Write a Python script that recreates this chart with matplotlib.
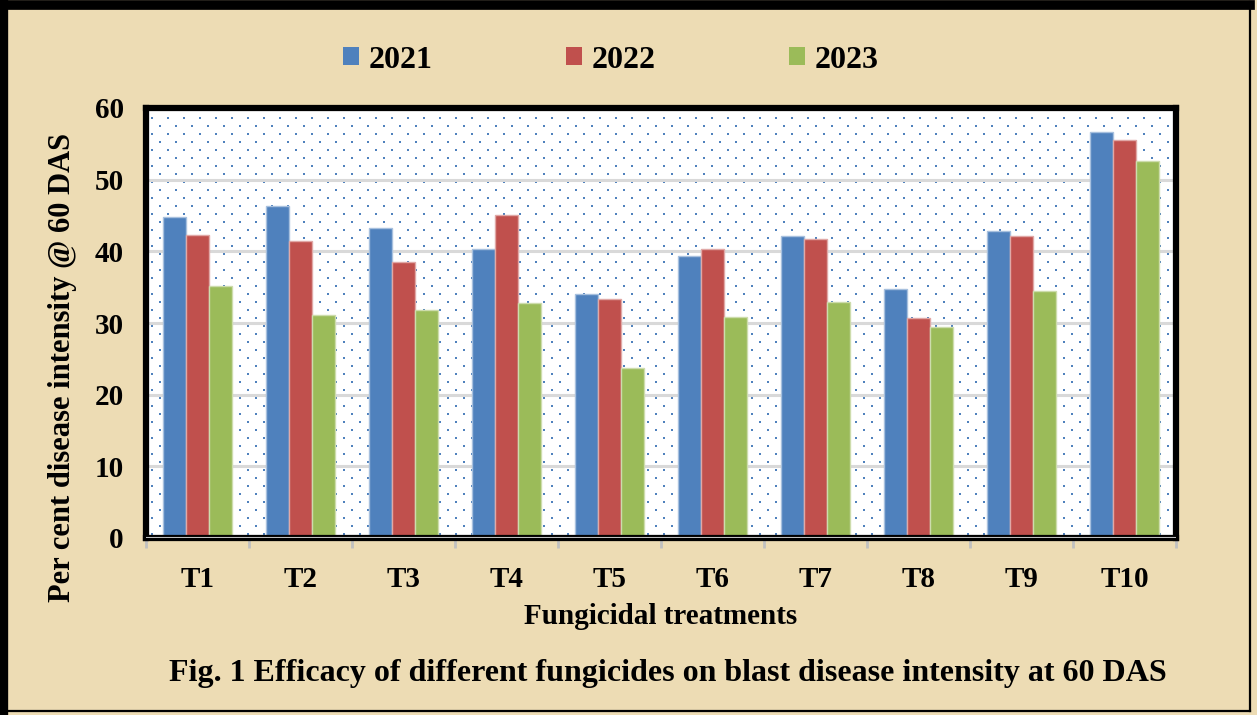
import matplotlib
matplotlib.use("Agg")
import matplotlib.pyplot as plt
import numpy as np
from matplotlib.patches import Patch
from matplotlib.lines import Line2D

# data
treatments = ["T1", "T2", "T3", "T4", "T5", "T6", "T7", "T8", "T9", "T10"]
years = ["2021", "2022", "2023"]
y2021 = [44.8, 46.3, 43.3, 40.3, 34.0, 39.3, 42.2, 34.7, 42.9, 56.7]
y2022 = [42.3, 41.4, 38.5, 45.1, 33.3, 40.3, 41.7, 30.7, 42.2, 55.6]
y2023 = [35.1, 31.1, 31.8, 32.8, 23.7, 30.9, 32.9, 29.5, 34.4, 52.6]
yticks = [0, 10, 20, 30, 40, 50, 60]

colors = ["#4f81bd", "#c0504d", "#9bbb59"]
edges = ["#a7c0de", "#e0a8a6", "#cddcac"]

plt.rcParams["font.family"] = ["Liberation Serif", "DejaVu Serif"]
plt.rcParams["font.weight"] = "bold"

W, H = 1257, 715
fig = plt.figure(figsize=(W / 100, H / 100), dpi=100)
fig.patch.set_facecolor("#eddcb4")

# axes box in pixels
L, R, T, B = 146, 1176, 108, 538
ax = fig.add_axes([L / W, 1 - B / H, (R - L) / W, (B - T) / H])
ax.set_facecolor("white")

# dotted fill of the plot area
aw, ah = R - L, B - T
pts = []
for k, yy in enumerate(np.arange(4, ah, 8)):
    x0 = 6 if k % 2 == 0 else 14
    for xx in np.arange(x0, aw, 16):
        pts.append((xx / aw, yy / ah))
pts = np.array(pts)
ax.scatter(pts[:, 0], pts[:, 1], transform=ax.transAxes, marker="s", s=2.0,
           color="#4f81bd", linewidths=0, zorder=0.3, clip_on=True)

x = np.arange(len(treatments))
bw = 0.223
for i, (vals, c, e) in enumerate(zip([y2021, y2022, y2023], colors, edges)):
    ax.bar(x + (i - 1) * bw, vals, width=bw, color=c, edgecolor=e,
           linewidth=1.0, zorder=2, label=years[i])

ax.set_xlim(-0.5, len(treatments) - 0.5)
ax.set_ylim(0, 60)
ax.set_yticks(yticks)
ax.set_yticklabels([str(v) for v in yticks], fontsize=21, fontweight="bold")
ax.set_xticks(x)
ax.set_xticklabels(treatments, fontsize=21, fontweight="bold")
ax.tick_params(axis="x", length=0, pad=20)
ax.tick_params(axis="y", length=0, pad=16)
ax.set_xticks(np.arange(-0.5, len(treatments), 1), minor=True)
ax.tick_params(axis="x", which="minor", length=7, width=2, color="#c0c0c0",
               direction="out")

ax.yaxis.grid(True, color="#d9d9d9", linewidth=2.2, zorder=1)
ax.set_axisbelow(True)

for s in ["left", "top", "right", "bottom"]:
    ax.spines[s].set_linewidth(4.5)
    ax.spines[s].set_color("black")
ax.axhline(0, color="#c0c0c0", linewidth=1.5, zorder=3)

ax.set_xlabel("Fungicidal treatments", fontsize=21, fontweight="bold",
              labelpad=7)
ax.set_ylabel("Per cent disease intensity @ 60 DAS", fontsize=22,
              fontweight="bold", va="center")
ax.yaxis.set_label_coords((63 - L) / aw, (B - 367) / ah)

handles = [Patch(facecolor=c, edgecolor="none") for c in colors]
fig.legend(handles, years, loc="center", bbox_to_anchor=(0.486, 1 - 60 / H),
           ncol=3, frameon=False, handlelength=0.5,
           handleheight=0.5, handletextpad=0.3, columnspacing=4.17,
           prop={"weight": "bold", "size": 23})

fig.text(0.531, 1 - 674 / H,
         "Fig. 1 Efficacy of different fungicides on blast disease intensity at 60 DAS",
         ha="center", va="center", fontsize=23, fontweight="bold")

# outer frame: thick on top/left, thin on right/bottom
fig.add_artist(Line2D([4 / W, 4 / W], [0.002, 1], transform=fig.transFigure,
                      color="black", linewidth=6))
fig.add_artist(Line2D([0, 1250 / W], [1 - 5 / H, 1 - 5 / H],
                      transform=fig.transFigure, color="black", linewidth=7))
fig.add_artist(Line2D([1250 / W, 1250 / W], [1 - 711 / H, 1 - 2 / H],
                      transform=fig.transFigure, color="black", linewidth=1.6))
fig.add_artist(Line2D([0, 1250 / W], [1 - 711 / H, 1 - 711 / H],
                      transform=fig.transFigure, color="black", linewidth=1.6))

fig.savefig("out.png", dpi=100, facecolor=fig.get_facecolor())
